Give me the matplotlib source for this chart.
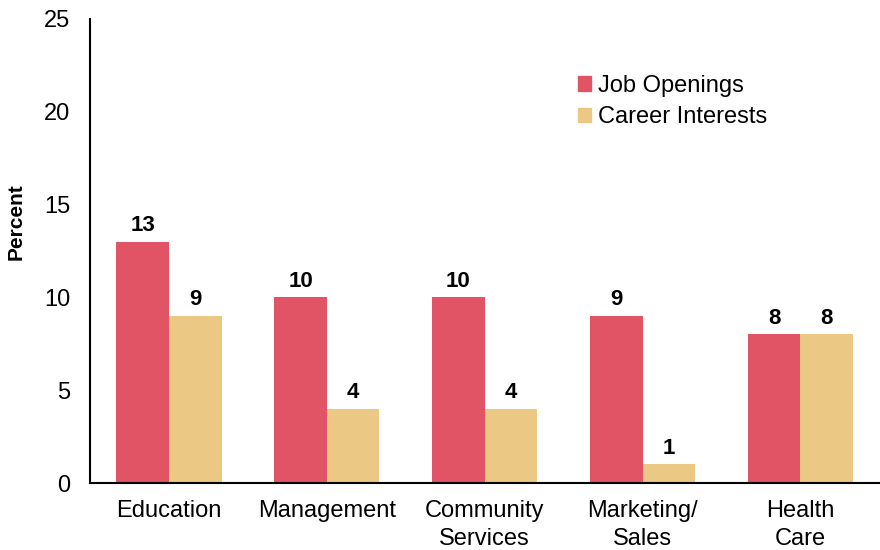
import numpy as np
import matplotlib
matplotlib.use("Agg")
import matplotlib.pyplot as plt
from matplotlib.patches import Patch

# data
categories = ["Education", "Management", "Community\nServices", "Marketing/\nSales", "Health\nCare"]
job_openings = [13, 10, 10, 9, 8]
career_interests = [9, 4, 4, 1, 8]
y_ticks = [0, 5, 10, 15, 20, 25]

red = "#E05466"
sand = "#EBC985"

plt.rcParams["font.family"] = ["Liberation Sans", "DejaVu Sans"]

fig = plt.figure(figsize=(8.8, 5.5), dpi=100)
ax = fig.add_axes([0.1023, 0.1218, 0.897, 0.844])

x = np.arange(len(categories))
w = 0.333
b1 = ax.bar(x - w / 2, job_openings, w, color=red, label="Job Openings")
b2 = ax.bar(x + w / 2, career_interests, w, color=sand, label="Career Interests")

for bars, vals in ((b1, job_openings), (b2, career_interests)):
    for rect, v in zip(bars, vals):
        ax.text(rect.get_x() + rect.get_width() / 2, v + 0.3, str(v),
                ha="center", va="bottom", fontsize=16, fontweight="bold")

ax.set_xlim(-0.5, 4.5)
ax.set_ylim(0, 25)
ax.set_yticks(y_ticks)
ax.set_xticks(x)
ax.set_xticklabels(categories, fontsize=17, linespacing=1.35)
ax.tick_params(axis="y", labelsize=17, length=0, pad=14)
ax.tick_params(axis="x", length=0, pad=12)
for s in ("top", "right"):
    ax.spines[s].set_visible(False)
ax.spines["left"].set_linewidth(1.5)
ax.spines["bottom"].set_linewidth(1.5)
ax.set_ylabel("Percent", fontsize=15, fontweight="bold")
ax.yaxis.set_label_coords(-0.081, 0.5625)

handles = [Patch(color=red), Patch(color=sand)]
ax.legend(handles, ["Job Openings", "Career Interests"], frameon=False,
          fontsize=17, loc="upper left", bbox_to_anchor=(0.591, 0.925),
          handlelength=0.55, handleheight=0.55, handletextpad=0.3, labelspacing=0.4)

fig.savefig("out.png", dpi=100)
